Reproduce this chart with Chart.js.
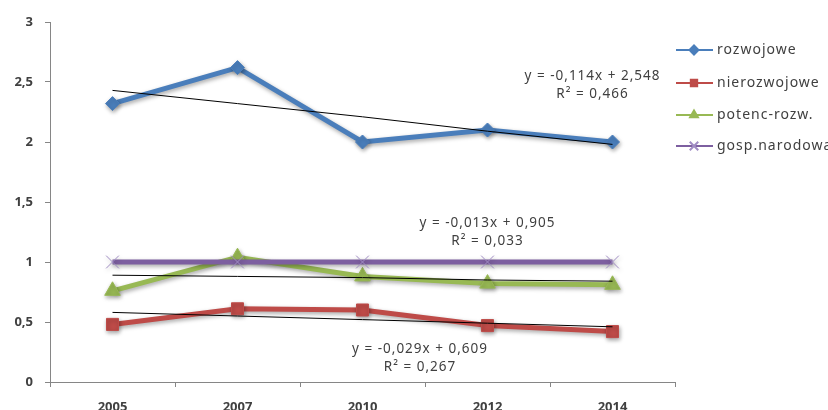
<!DOCTYPE html>
<html>
<head>
<meta charset="utf-8">
<script src="https://cdn.jsdelivr.net/npm/chart.js@4/dist/chart.umd.min.js"></script>
<style>
  html, body { margin: 0; padding: 0; background: #ffffff; }
  #wrap { width: 828px; height: 410px; position: relative; }
</style>
</head>
<body>
<div id="wrap"><canvas id="c" width="828" height="410"></canvas></div>
<script>
// ---- data ----
const categories = ['2005', '2007', '2010', '2012', '2014'];
const rozwojowe    = [2.32, 2.62, 2.00, 2.10, 2.00];
const nierozwojowe = [0.48, 0.61, 0.60, 0.47, 0.42];
const potencRozw   = [0.76, 1.04, 0.88, 0.82, 0.81];
const gospNarodowa = [1.00, 1.00, 1.00, 1.00, 1.00];
// linear trend lines (as drawn)
const trendRozw    = [2.43, 2.32, 2.21, 2.09, 1.98];
const trendPotenc  = [0.89, 0.88, 0.87, 0.85, 0.84];
const trendNierozw = [0.58, 0.55, 0.52, 0.49, 0.46];
const yTicks = [0, 0.5, 1, 1.5, 2, 2.5, 3];
const trendLabels = [
  ['y = -0,114x + 2,548', 'R\u00B2 = 0,466'],
  ['y = -0,013x + 0,905', 'R\u00B2 = 0,033'],
  ['y = -0,029x + 0,609', 'R\u00B2 = 0,267']
];

const FONT = '"Noto Sans", "Open Sans", sans-serif';
const TXT = '#404040';

function series(label, data, color, style, radius, order, extra) {
  return Object.assign({
    label, data, order,
    borderColor: color, backgroundColor: color,
    borderWidth: 5, pointStyle: style, pointRadius: radius, pointHoverRadius: radius,
    pointBorderColor: color, pointBackgroundColor: color, pointBorderWidth: 1,
    tension: 0, isSeries: true
  }, extra || {});
}
function trend(data) {
  return { label: '', data, order: 0, borderColor: '#000000', borderWidth: 1,
    pointRadius: 0, pointHoverRadius: 0, tension: 0, isSeries: false, fill: false };
}

const datasets = [
  series('rozwojowe', rozwojowe, '#4a7ebb', 'rectRot', 7, 4),
  series('nierozwojowe', nierozwojowe, '#be4b48', 'rect', 8.5, 3),
  series('potenc-rozw.', potencRozw, '#98b954', 'triangle', 9, 2),
  series('gosp.narodowa', gospNarodowa, '#7d5fa0', 'crossRot', 9, 1,
         { pointBorderColor: '#a08cc4', pointBorderWidth: 1 }),
  trend(trendRozw), trend(trendPotenc), trend(trendNierozw)
];

const shadowPlugin = {
  id: 'shadow',
  beforeDatasetDraw(chart, args) {
    const ds = chart.data.datasets[args.index];
    if (!ds.isSeries) return;
    const ctx = chart.ctx;
    ctx.save();
    ctx.shadowColor = 'rgba(0,0,0,0.35)';
    ctx.shadowBlur = 4;
    ctx.shadowOffsetX = 1;
    ctx.shadowOffsetY = 2;
  },
  afterDatasetDraw(chart, args) {
    const ds = chart.data.datasets[args.index];
    if (!ds.isSeries) return;
    chart.ctx.restore();
  }
};

const legendPlugin = {
  id: 'customLegend',
  afterDraw(chart) {
    const ctx = chart.ctx;
    const x0 = chart.chartArea.right + 1;
    const rows = [50, 83, 115, 146];
    let i = 0;
    chart.data.datasets.forEach(ds => {
      if (!ds.isSeries) return;
      const y = rows[i++];
      ctx.save();
      ctx.strokeStyle = ds.borderColor;
      ctx.lineWidth = 2;
      ctx.beginPath(); ctx.moveTo(x0, y); ctx.lineTo(x0 + 37, y); ctx.stroke();
      const r = ds.pointStyle === 'crossRot' ? 6 : 4.5;
      ctx.fillStyle = ds.pointBackgroundColor;
      ctx.strokeStyle = ds.pointBorderColor;
      Chart.helpers.drawPoint(ctx, {
        pointStyle: ds.pointStyle, radius: r, borderWidth: 1, rotation: 0
      }, x0 + 18, y);
      ctx.fillStyle = TXT;
      ctx.font = '14px ' + FONT;
      ctx.letterSpacing = '1px';
      ctx.textBaseline = 'middle';
      ctx.textAlign = 'left';
      ctx.fillText(ds.label, x0 + 41, y);
      ctx.restore();
    });
  }
};

const trendLabelPlugin = {
  id: 'trendLabels',
  afterDraw(chart) {
    const ctx = chart.ctx;
    const xs = chart.scales.x, ys = chart.scales.y;
    // anchors: [category position, value of first line]
    const anchors = [[3.84, 2.55], [3.0, 1.32], [2.46, 0.27]];
    ctx.save();
    ctx.fillStyle = TXT;
    ctx.font = '13.5px ' + FONT;
    ctx.letterSpacing = '1px';
    ctx.textAlign = 'center';
    ctx.textBaseline = 'middle';
    trendLabels.forEach((lines, k) => {
      const px = xs.getPixelForValue(anchors[k][0]);
      const py = ys.getPixelForValue(anchors[k][1]);
      ctx.fillText(lines[0], px, py);
      ctx.fillText(lines[1], px, py + 18);
    });
    ctx.restore();
  }
};

new Chart(document.getElementById('c'), {
  type: 'line',
  data: { labels: categories, datasets },
  plugins: [shadowPlugin, legendPlugin, trendLabelPlugin],
  options: {
    responsive: false,
    animation: false,
    layout: { padding: { left: 0, right: 153, top: 22, bottom: 0 } },
    plugins: { legend: { display: false }, tooltip: { enabled: false } },
    scales: {
      x: {
        type: 'category',
        offset: true,
        grid: { display: true, offset: true, drawOnChartArea: false, drawTicks: true,
                tickLength: 5, color: '#868686', lineWidth: 1 },
        border: { display: true, color: '#868686', width: 1 },
        ticks: { color: TXT, font: { family: FONT, size: 13, weight: 'bold' }, padding: 12,
                 maxRotation: 0 },
        afterFit(scale) { scale.height = 28; }
      },
      y: {
        min: 0, max: 3,
        afterBuildTicks(scale) { scale.ticks = yTicks.map(v => ({ value: v })); },
        grid: { display: true, drawOnChartArea: false, drawTicks: true, tickLength: 5,
                color: '#868686', lineWidth: 1 },
        border: { display: true, color: '#868686', width: 1 },
        ticks: { color: TXT, font: { family: FONT, size: 13, weight: 'bold' }, padding: 12,
                 callback: v => String(v).replace('.', ',') },
        afterFit(scale) { scale.width = 50; }
      }
    }
  }
});
</script>
</body>
</html>
